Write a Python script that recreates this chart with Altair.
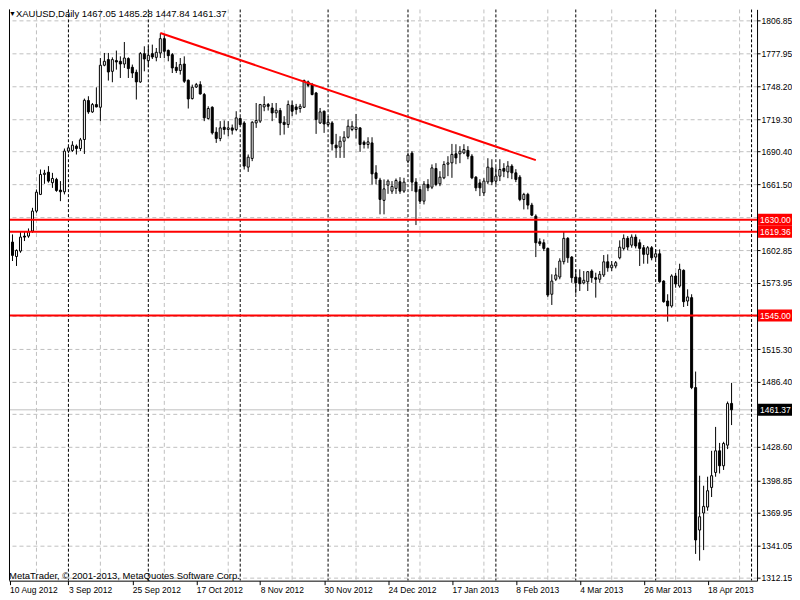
import altair as alt
import pandas as pd

# ---------------- data ----------------
bar_index = list(range(183))  # trading-day position, 0 = 10 Aug 2012

opens = [1612.0, 1621.4, 1610.2, 1597.4, 1602.2, 1615.5, 1615.5, 1620.0, 1637.7, 1652.5,
         1670.2, 1672.2, 1662.9, 1665.8, 1656.3, 1654.8, 1690.9, 1691.5, 1695.3, 1693.2,
         1701.2, 1735.8, 1725.7, 1732.2, 1729.8, 1767.1, 1772.1, 1761.7, 1771.2, 1770.6,
         1768.2, 1773.0, 1765.3, 1760.8, 1752.3, 1777.4, 1771.2, 1777.4, 1774.1, 1777.95,
         1790.7, 1780.3, 1776.5, 1765.3, 1762.4, 1768.2, 1753.8, 1737.5, 1747.8, 1749.9,
         1741.1, 1719.8, 1729.8, 1707.7, 1702.1, 1712.1, 1710.1, 1711.5, 1710.1, 1719.8,
         1715.9, 1676.7, 1684.4, 1715.9, 1717.5, 1730.1, 1732.2, 1729.2, 1724.8, 1726.9,
         1716.5, 1714.5, 1731.6, 1730.1, 1728.7, 1729.8, 1752.3, 1749.9, 1742.5, 1715.9,
         1726.3, 1714.5, 1715.9, 1696.2, 1694.4, 1699.7, 1703.2, 1710.1, 1710.1, 1711.5,
         1698.8, 1696.8, 1698.2, 1671.6, 1665.2, 1647.2, 1660.7, 1655.4, 1657.8, 1663.7,
         1655.4, 1682.0, 1689.1, 1663.4, 1656.9, 1646.5, 1661.3, 1658.9, 1675.5, 1661.9,
         1667.2, 1679.3, 1680.5, 1688.5, 1688.5, 1689.3, 1691.5, 1686.4, 1667.8, 1662.7,
         1653.9, 1663.6, 1676.0, 1664.3, 1668.7, 1675.5, 1672.5, 1677.6, 1671.6, 1667.8,
         1648.0, 1652.5, 1643.0, 1633.2, 1610.5, 1609.6, 1604.6, 1563.9, 1577.2, 1579.2,
         1592.8, 1613.5, 1596.9, 1579.2, 1578.6, 1573.9, 1575.0, 1584.5, 1578.6, 1577.2,
         1581.0, 1592.7, 1587.4, 1589.0, 1596.3, 1604.6, 1613.5, 1607.5, 1614.6, 1609.6,
         1605.2, 1599.3, 1605.2, 1596.9, 1599.8, 1575.6, 1557.9, 1553.5, 1580.1, 1571.2,
         1585.1, 1557.9, 1560.9, 1481.1, 1354.7, 1369.8, 1375.1, 1392.5, 1405.8, 1425.0,
         1411.7, 1430.0, 1467.05]

highs = [1624.0, 1626.0, 1617.0, 1603.7, 1619.4, 1619.4, 1622.3, 1640.6, 1656.9, 1674.6,
         1674.3, 1677.6, 1671.6, 1667.2, 1664.3, 1693.2, 1695.0, 1699.7, 1696.8, 1702.6,
         1737.5, 1739.6, 1733.6, 1747.5, 1773.5, 1778.0, 1778.0, 1774.1, 1780.1, 1775.0,
         1787.7, 1774.1, 1767.7, 1763.2, 1778.8, 1783.9, 1783.9, 1785.4, 1782.4, 1795.5,
         1794.3, 1781.0, 1777.95, 1770.0, 1773.5, 1775.0, 1754.4, 1749.9, 1751.4, 1752.9,
         1742.5, 1730.7, 1730.7, 1712.1, 1717.5, 1718.1, 1717.5, 1714.5, 1726.3, 1721.0,
         1717.5, 1687.9, 1717.5, 1733.6, 1732.8, 1739.6, 1733.6, 1733.6, 1733.6, 1729.2,
         1721.9, 1735.8, 1735.8, 1732.8, 1732.8, 1754.4, 1753.5, 1751.4, 1743.4, 1729.2,
         1726.9, 1721.9, 1717.5, 1706.2, 1704.1, 1708.6, 1718.9, 1717.5, 1723.9, 1712.1,
         1700.3, 1703.2, 1703.2, 1678.4, 1667.2, 1665.8, 1665.8, 1664.3, 1666.6, 1667.8,
         1667.2, 1689.5, 1690.8, 1666.9, 1659.8, 1664.3, 1666.0, 1679.1, 1680.2, 1673.1,
         1682.0, 1686.4, 1697.3, 1697.0, 1695.3, 1697.0, 1695.3, 1688.2, 1668.7, 1666.0,
         1666.9, 1684.6, 1683.7, 1676.7, 1683.7, 1680.2, 1682.0, 1679.3, 1674.9, 1669.6,
         1653.9, 1653.9, 1645.0, 1634.8, 1613.5, 1612.6, 1605.2, 1581.6, 1587.4, 1595.8,
         1619.3, 1614.6, 1597.8, 1586.0, 1586.0, 1584.5, 1584.5, 1586.0, 1583.0, 1584.5,
         1598.7, 1599.3, 1593.4, 1593.4, 1611.7, 1617.0, 1615.5, 1617.0, 1617.0, 1612.6,
         1607.6, 1606.7, 1606.7, 1603.7, 1603.7, 1576.3, 1563.9, 1581.6, 1583.0, 1591.0,
         1586.0, 1568.3, 1563.9, 1495.3, 1402.9, 1394.0, 1402.0, 1425.0, 1446.2, 1432.0,
         1433.0, 1468.7, 1485.28]

lows = [1604.0, 1606.0, 1593.4, 1589.0, 1600.7, 1611.1, 1614.0, 1618.4, 1636.2, 1651.9,
        1661.9, 1662.9, 1658.3, 1654.8, 1646.5, 1652.5, 1689.0, 1690.2, 1687.9, 1690.9,
        1688.4, 1724.0, 1724.8, 1729.8, 1717.5, 1766.2, 1753.5, 1752.0, 1763.2, 1755.8,
        1764.7, 1755.8, 1755.8, 1736.7, 1751.4, 1761.7, 1765.3, 1772.6, 1770.6, 1773.5,
        1773.5, 1770.6, 1760.2, 1760.2, 1758.8, 1751.4, 1728.7, 1736.7, 1746.9, 1741.1,
        1717.5, 1718.9, 1705.6, 1698.2, 1699.7, 1705.6, 1704.1, 1705.6, 1708.6, 1713.9,
        1674.6, 1672.5, 1682.0, 1711.5, 1715.9, 1726.3, 1726.9, 1717.5, 1720.4, 1705.0,
        1705.6, 1711.5, 1721.9, 1723.4, 1725.0, 1729.2, 1747.6, 1740.4, 1706.2, 1715.0,
        1707.1, 1713.0, 1691.5, 1684.9, 1684.9, 1684.9, 1702.1, 1708.6, 1702.1, 1690.2,
        1693.2, 1693.2, 1661.3, 1661.3, 1634.8, 1634.8, 1653.0, 1653.0, 1653.0, 1653.0,
        1653.9, 1680.2, 1655.4, 1625.3, 1643.9, 1643.6, 1655.4, 1657.2, 1659.8, 1659.8,
        1666.0, 1668.7, 1667.2, 1679.3, 1680.2, 1688.2, 1683.7, 1666.0, 1655.4, 1651.0,
        1651.0, 1661.6, 1660.7, 1661.6, 1664.3, 1667.8, 1666.9, 1666.0, 1663.4, 1646.5,
        1639.2, 1639.2, 1633.2, 1596.9, 1606.7, 1602.2, 1561.5, 1554.4, 1575.6, 1577.2,
        1590.4, 1591.8, 1574.1, 1564.4, 1566.8, 1572.7, 1566.8, 1574.1, 1560.9, 1574.1,
        1579.2, 1583.9, 1584.5, 1586.9, 1594.9, 1602.9, 1602.9, 1605.2, 1604.6, 1589.0,
        1591.0, 1591.0, 1594.0, 1594.9, 1574.1, 1556.4, 1539.6, 1552.0, 1569.7, 1569.7,
        1552.6, 1553.5, 1479.7, 1333.5, 1327.6, 1336.9, 1371.8, 1384.0, 1402.0, 1404.9,
        1408.0, 1426.5, 1447.84]

closes = [1620.0, 1608.7, 1598.4, 1602.8, 1614.6, 1614.6, 1619.4, 1637.7, 1654.5, 1670.2,
          1671.3, 1664.3, 1666.6, 1656.0, 1654.8, 1690.9, 1693.8, 1696.2, 1693.2, 1700.9,
          1736.0, 1725.7, 1732.2, 1730.1, 1767.1, 1770.6, 1761.1, 1772.1, 1770.0, 1768.2,
          1773.5, 1764.1, 1760.2, 1752.3, 1777.4, 1772.6, 1775.9, 1774.4, 1778.6, 1790.7,
          1779.5, 1775.6, 1764.7, 1762.4, 1767.7, 1752.9, 1737.2, 1747.6, 1749.9, 1741.6,
          1720.4, 1728.7, 1707.1, 1702.1, 1711.5, 1710.1, 1711.5, 1709.5, 1720.4, 1714.5,
          1677.6, 1685.5, 1716.5, 1718.1, 1732.2, 1732.2, 1730.7, 1724.8, 1727.2, 1715.9,
          1714.5, 1732.2, 1726.3, 1727.8, 1730.7, 1753.5, 1749.3, 1741.1, 1718.9, 1725.7,
          1715.0, 1716.5, 1697.3, 1693.8, 1699.7, 1703.2, 1713.0, 1713.0, 1712.1, 1696.8,
          1696.8, 1699.1, 1670.7, 1666.6, 1648.0, 1657.4, 1664.3, 1659.6, 1664.9, 1655.4,
          1663.4, 1687.3, 1663.4, 1654.8, 1646.5, 1661.6, 1658.3, 1676.0, 1661.3, 1667.8,
          1679.1, 1680.5, 1688.0, 1684.9, 1690.8, 1692.3, 1686.4, 1667.2, 1658.3, 1658.3,
          1664.3, 1676.7, 1663.6, 1668.7, 1674.6, 1673.1, 1677.6, 1671.6, 1665.8, 1648.0,
          1652.5, 1643.0, 1634.1, 1609.6, 1608.7, 1604.6, 1563.2, 1575.6, 1581.0, 1593.4,
          1613.5, 1596.3, 1578.6, 1574.1, 1573.3, 1576.3, 1583.9, 1578.6, 1577.2, 1581.6,
          1592.7, 1587.4, 1589.8, 1591.9, 1605.7, 1613.5, 1605.8, 1614.6, 1606.7, 1604.6,
          1599.3, 1605.2, 1596.3, 1599.8, 1575.0, 1557.3, 1553.5, 1580.1, 1573.0, 1586.0,
          1557.3, 1561.5, 1481.1, 1345.9, 1366.5, 1375.7, 1389.6, 1402.9, 1425.0, 1411.7,
          1431.5, 1466.9, 1461.37]

x_tick_bars = [0, 16, 32, 48, 64, 80, 96, 112, 128, 144, 160, 176]
x_tick_labels = ["10 Aug 2012", "3 Sep 2012", "25 Sep 2012", "17 Oct 2012", "8 Nov 2012",
                 "30 Nov 2012", "24 Dec 2012", "17 Jan 2013", "8 Feb 2013", "4 Mar 2013",
                 "26 Mar 2013", "18 Apr 2013"]
y_tick_values = [1806.85, 1777.95, 1748.20, 1719.30, 1690.40, 1661.50, 1632.60, 1602.85,
                 1573.95, 1545.05, 1515.30, 1486.40, 1457.50, 1428.60, 1398.85, 1369.95,
                 1341.05, 1312.15]
covered_y_labels = [1632.60, 1545.05, 1457.50]  # hidden under the price tags
month_separator_bars = [16, 36, 59, 81, 101, 123, 143, 163, 187]
grid_bars = [8, 24, 40, 56, 72, 88, 104, 120, 136, 152, 168, 184]
level_prices = [1630.00, 1619.36, 1545.00]
level_labels = ["1630.00", "1619.36", "1545.00"]
trend_bars = [39, 133]
trend_prices = [1795.7, 1682.9]
last_price = [1461.37]
last_label = ["1461.37"]
header_text = ["XAUUSD,Daily  1467.05 1485.28 1447.84 1461.37"]
footer_text = ["MetaTrader, \u00a9 2001-2013, MetaQuotes Software Corp."]

# ---------------- layout ----------------
W, H = 749, 572
X_MIN, X_MAX = 1.125, 188.375
Y_MIN, Y_MAX = 1309.80, 1816.67
FONT = "Liberation Sans, Arial, sans-serif"
FS = 8.5

xs = alt.Scale(domain=[X_MIN, X_MAX], nice=False, zero=False, padding=0)
ys = alt.Scale(domain=[Y_MIN, Y_MAX], nice=False, zero=False, padding=0)

axis_values = [max(v, X_MIN + 0.15) for v in x_tick_bars]
x_label_expr = "[" + ",".join("'%s'" % s for s in x_tick_labels) + "][round(datum.value / 16)]"
y_label_expr = ("(" + " || ".join("abs(datum.value - %s) < 0.01" % v for v in covered_y_labels)
                + ") ? '' : format(datum.value, '.2f')")

x_axis = alt.Axis(values=axis_values, labelExpr=x_label_expr, labelAlign="left",
                  tickSize=4, labelPadding=1, grid=False, title=None, labelFlush=False,
                  labelOverlap=False, domainColor="black", tickColor="black",
                  labelColor="black", labelFont=FONT, labelFontSize=FS)
y_axis = alt.Axis(orient="right", values=y_tick_values, labelExpr=y_label_expr, grid=True,
                  gridColor="#c0c0c0", gridDash=[4, 3], gridWidth=1, tickSize=3,
                  labelPadding=1, title=None, domainColor="black", tickColor="black",
                  labelColor="black", labelFont=FONT, labelFontSize=FS, labelOverlap=False,
                  labelFlush=False, labelBound=False)


def X(field):
    return alt.X(field, scale=xs, axis=x_axis)


def Y(field):
    return alt.Y(field, scale=ys, axis=y_axis)


candles = pd.DataFrame({"bar": bar_index, "open": opens, "high": highs,
                        "low": lows, "close": closes})

vgrid = alt.Chart(pd.DataFrame({"bar": grid_bars})).mark_rule(
    color="#c0c0c0", strokeDash=[4, 3], strokeWidth=1, clip=True
).encode(x=X("bar:Q"))

last_line = alt.Chart(pd.DataFrame({"p": last_price})).mark_rule(
    color="#c0c0c0", strokeWidth=1
).encode(y=Y("p:Q"))

seps = alt.Chart(pd.DataFrame({"bar": month_separator_bars})).mark_rule(
    color="black", strokeDash=[3, 2], strokeWidth=1, clip=True
).encode(x=X("bar:Q"))

wicks = alt.Chart(candles).mark_rule(color="black", strokeWidth=1, clip=True).encode(
    x=X("bar:Q"), y=Y("low:Q"), y2="high:Q")

bodies = alt.Chart(candles).mark_bar(size=2, stroke="black", strokeWidth=1, clip=True).encode(
    x=X("bar:Q"), y=Y("open:Q"), y2="close:Q",
    fill=alt.condition("datum.close >= datum.open", alt.value("white"), alt.value("black")),
)

levels_df = pd.DataFrame({"p": level_prices, "label": level_labels})
levels = alt.Chart(levels_df).mark_rule(color="#ff0000", strokeWidth=2).encode(y=Y("p:Q"))

trend = alt.Chart(pd.DataFrame({"bar": trend_bars, "p": trend_prices})).mark_line(
    color="#ff0000", strokeWidth=2
).encode(x=X("bar:Q"), y=Y("p:Q"))

BOX_X1, BOX_X2 = W + 1, W + 35

level_boxes = alt.Chart(levels_df).mark_rect(color="#ff0000", yOffset=-6, y2Offset=6).encode(
    x=alt.value(BOX_X1), x2=alt.value(BOX_X2), y=Y("p:Q"), y2="p:Q")
level_text = alt.Chart(levels_df).mark_text(
    align="left", baseline="middle", color="white", font=FONT, fontSize=FS, dy=0.5
).encode(x=alt.value(W + 3), y=Y("p:Q"), text="label:N")

last_df = pd.DataFrame({"p": last_price, "label": last_label})
last_box = alt.Chart(last_df).mark_rect(color="black", yOffset=-6, y2Offset=6).encode(
    x=alt.value(BOX_X1), x2=alt.value(BOX_X2), y=Y("p:Q"), y2="p:Q")
last_text = alt.Chart(last_df).mark_text(
    align="left", baseline="middle", color="white", font=FONT, fontSize=FS, dy=0.5
).encode(x=alt.value(W + 3), y=Y("p:Q"), text="label:N")

tri = alt.Chart(pd.DataFrame({"t": ["\u25bc"]})).mark_text(
    align="left", baseline="middle", color="black", fontSize=7
).encode(x=alt.value(0), y=alt.value(5), text="t:N")
header = alt.Chart(pd.DataFrame({"t": header_text})).mark_text(
    align="left", baseline="middle", color="black", font=FONT, fontSize=9.5
).encode(x=alt.value(7), y=alt.value(5), text="t:N")
footer = alt.Chart(pd.DataFrame({"t": footer_text})).mark_text(
    align="left", baseline="middle", color="black", font=FONT, fontSize=9.5
).encode(x=alt.value(0), y=alt.value(H - 4.5), text="t:N")

left_border = alt.Chart(pd.DataFrame({"t": [0]})).mark_rule(color="black", strokeWidth=1).encode(
    x=alt.value(0.5), y=alt.value(0), y2=alt.value(H))

chart = alt.layer(
    vgrid, last_line, seps, wicks, bodies, levels, trend,
    level_boxes, level_text, last_box, last_text, tri, header, footer, left_border
).properties(width=W, height=H, padding=0, background="white").configure_view(stroke=None)

chart.save("out.html", embed_options={"renderer": "svg", "actions": False})
